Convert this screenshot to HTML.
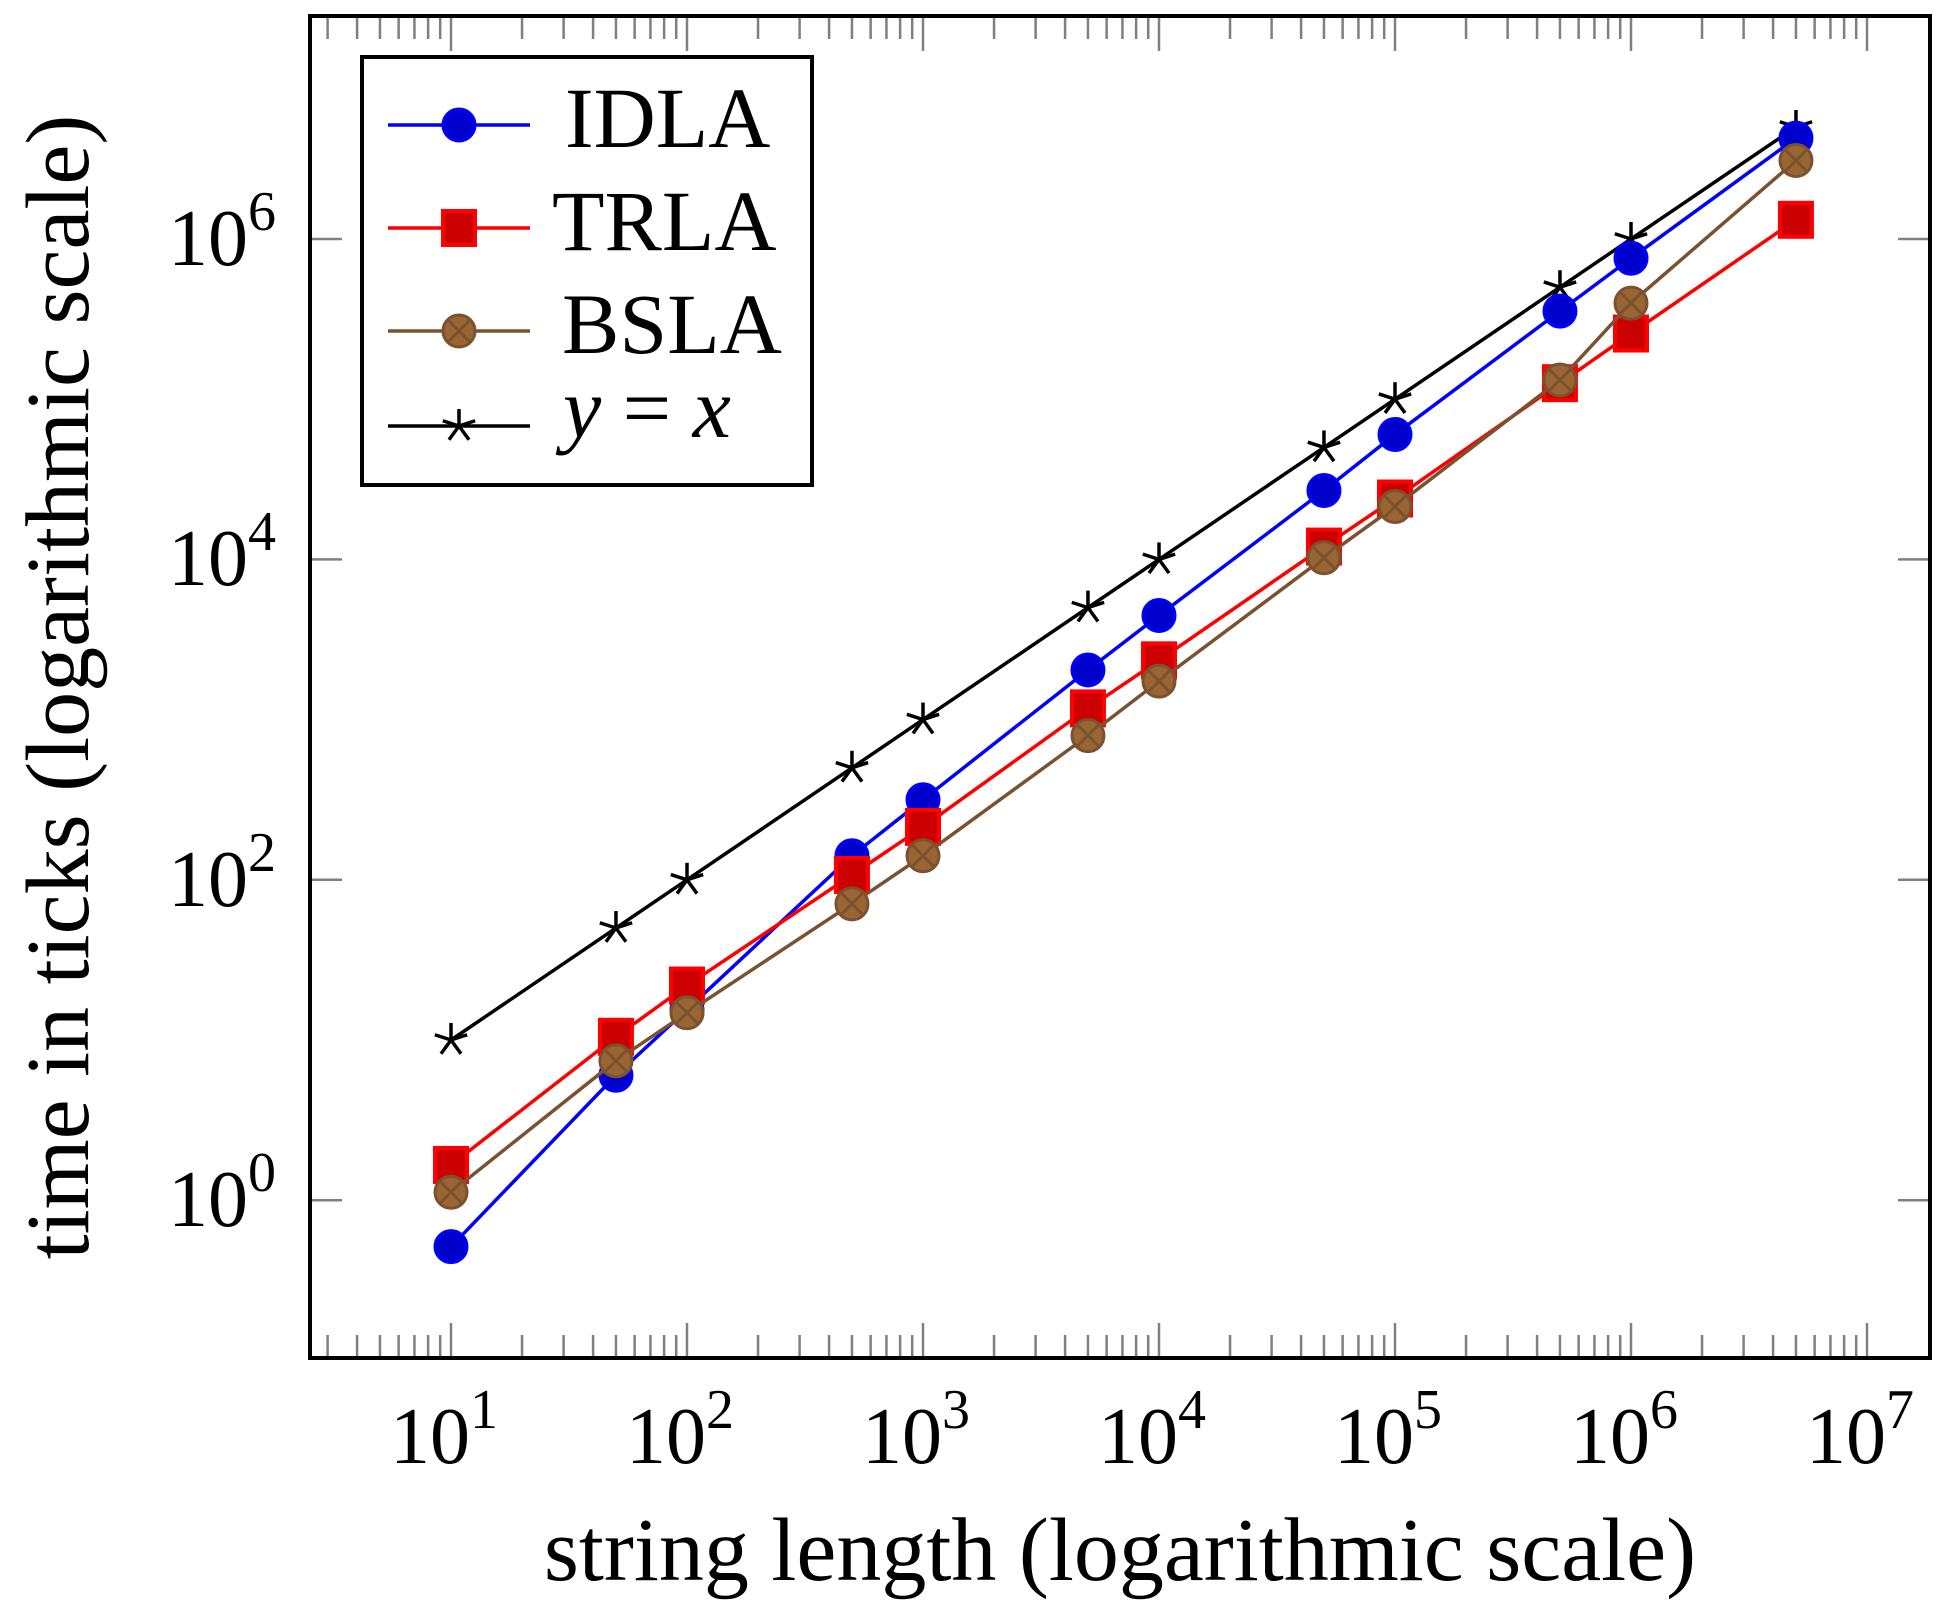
<!DOCTYPE html>
<html><head><meta charset="utf-8"><style>
html,body{margin:0;padding:0;background:#fff;}
svg{display:block;font-family:"Liberation Serif",serif;}
</style></head><body>
<svg id="s" width="1942" height="1618" viewBox="0 0 1942 1618" xmlns="http://www.w3.org/2000/svg">
<g id="ticks" stroke="#808080" stroke-width="2.5"></g>
<g id="series"></g>
<rect x="310" y="16" width="1620" height="1342" fill="none" stroke="#000" stroke-width="4"/>
<g font-size="80" text-anchor="middle" fill="#000">
<text x="444" y="1463">10<tspan font-size="56" dy="-35">1</tspan></text>
<text x="680" y="1463">10<tspan font-size="56" dy="-35">2</tspan></text>
<text x="916" y="1463">10<tspan font-size="56" dy="-35">3</tspan></text>
<text x="1152" y="1463">10<tspan font-size="56" dy="-35">4</tspan></text>
<text x="1388" y="1463">10<tspan font-size="56" dy="-35">5</tspan></text>
<text x="1624" y="1463">10<tspan font-size="56" dy="-35">6</tspan></text>
<text x="1860" y="1463">10<tspan font-size="56" dy="-35">7</tspan></text>
</g>
<g font-size="80" text-anchor="end" fill="#000">
<text x="276" y="265">10<tspan font-size="56" dy="-35">6</tspan></text>
<text x="276" y="585">10<tspan font-size="56" dy="-35">4</tspan></text>
<text x="276" y="906">10<tspan font-size="56" dy="-35">2</tspan></text>
<text x="276" y="1226">10<tspan font-size="56" dy="-35">0</tspan></text>
</g>
<text x="1120" y="1580" font-size="90" text-anchor="middle">string length (logarithmic scale)</text>
<text transform="translate(88,687) rotate(-90)" font-size="90" text-anchor="middle">time in ticks (logarithmic scale)</text>
<rect x="362" y="57" width="450" height="428" fill="#fff" stroke="#000" stroke-width="4"/>
<g id="leg"></g>
<g font-size="86" fill="#000">
<text x="565" y="147">IDLA</text>
<text x="552" y="250">TRLA</text>
<text x="562" y="353">BSLA</text>
<text x="563" y="437" font-style="italic">y <tspan font-style="normal">=</tspan> x</text>
</g>
</svg>
<script>
var NS="http://www.w3.org/2000/svg";
function X(l){return 451+(l-1)*236;}
function Y(l){return 239+(6-l)*160.2;}
function el(p,t,a){var e=document.createElementNS(NS,t);for(var k in a)e.setAttribute(k,a[k]);p.appendChild(e);return e;}
var T=document.getElementById('ticks');
var L=Math.log10;
for(var d=0;d<8;d++)for(var m=1;m<10;m++){var l=d+L(m);var x=X(l);if(x<312||x>1928)continue;var len=(m==1)?33:21;
el(T,'line',{x1:x,x2:x,y1:18,y2:18+len});el(T,'line',{x1:x,x2:x,y1:1356,y2:1356-len});}
for(var l=0;l<=6;l+=2){var y=Y(l);el(T,'line',{x1:312,x2:342,y1:y,y2:y});el(T,'line',{x1:1928,x2:1898,y1:y,y2:y});}
var xs=[1,1.699,2,2.699,3,3.699,4,4.699,5,5.699,6,6.699];
var S=document.getElementById('series');
function star(g,x,y,r){for(var i=0;i<5;i++){var a=-Math.PI/2+i*2*Math.PI/5;el(g,'line',{x1:x,y1:y,x2:x+r*Math.cos(a),y2:y+r*Math.sin(a),stroke:'#000','stroke-width':3.5});}}
function mark(g,type,x,y){
 if(type=='c')el(g,'circle',{cx:x,cy:y,r:16,fill:'#0000cc',stroke:'#0000ff','stroke-width':3});
 else if(type=='s')el(g,'rect',{x:x-16,y:y-17,width:32,height:34,fill:'#cc0000',stroke:'#ff0000','stroke-width':4});
 else if(type=='b'){el(g,'circle',{cx:x,cy:y,r:16,fill:'#996633',stroke:'#7a5230','stroke-width':3});
  var k=11;el(g,'line',{x1:x-k,y1:y-k,x2:x+k,y2:y+k,stroke:'#7a5230','stroke-width':3});el(g,'line',{x1:x-k,y1:y+k,x2:x+k,y2:y-k,stroke:'#7a5230','stroke-width':3});}
 else star(g,x,y,17);
}
var data=[
 ['#000','a',xs.slice()],
 ['#0000ff','c',[-0.29,0.78,1.19,2.15,2.50,3.31,3.65,4.43,4.78,5.55,5.88,6.63]],
 ['#ff0000','s',[0.22,1.02,1.34,2.03,2.33,3.07,3.37,4.08,4.38,5.10,5.41,6.12]],
 ['#7a5230','b',[0.05,0.87,1.17,1.85,2.15,2.90,3.24,4.01,4.33,5.12,5.60,6.49]]
];
data.forEach(function(d){var pts=xs.map(function(x,i){return X(x)+','+Y(d[2][i]);}).join(' ');
 el(S,'polyline',{points:pts,fill:'none',stroke:d[0],'stroke-width':3.5});
 xs.forEach(function(x,i){mark(S,d[1],X(x),Y(d[2][i]));});});
var G=document.getElementById('leg');
[['#0000ff','c',125],['#ff0000','s',228],['#7a5230','b',331],['#000','a',426]].forEach(function(d){
 el(G,'line',{x1:388,x2:530,y1:d[2],y2:d[2],stroke:d[0],'stroke-width':3.5});mark(G,d[1],459,d[2]);});
</script>
</body></html>
